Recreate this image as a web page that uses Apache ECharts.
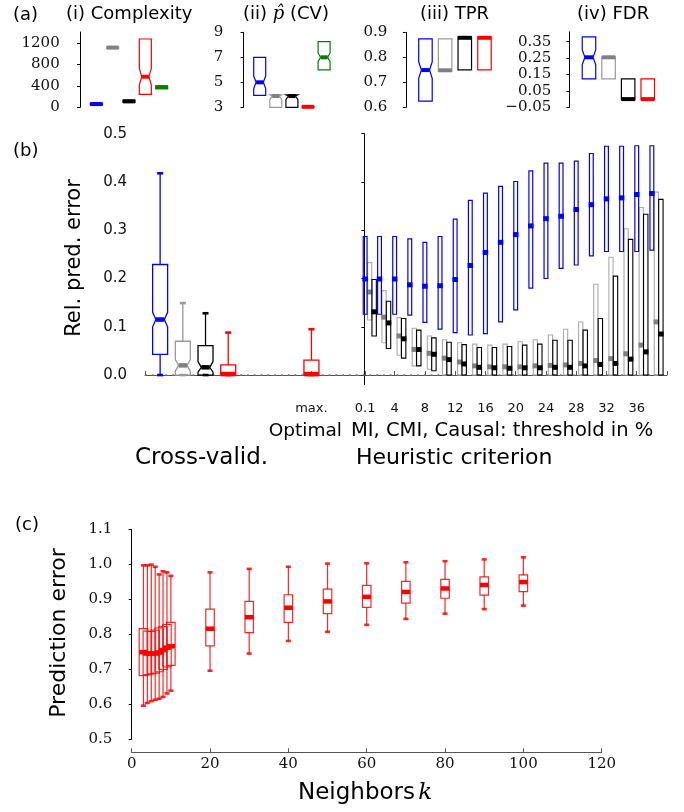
<!DOCTYPE html>
<html>
<head>
<meta charset="utf-8">
<script src="https://cdn.jsdelivr.net/npm/echarts@6/dist/echarts.min.js"></script>
<style>
  html, body { margin: 0; padding: 0; background: #fff; }
  #chart { width: 684px; height: 812px; }
</style>
</head>
<body>
<div id="chart"></div>
<script>
// ---------- data ----------
// (a) box stats: [q1, median, q3, notchLo, notchHi]  order: blue, gray, black, red, green
const complexityStats = [
  [40, 60, 80, null, null],
  [1095, 1110, 1125, null, null],
  [90, 110, 135, null, null],
  [242, 569, 1270, 415, 725],
  [345, 372, 400, null, null]
];
const pcvStats = [
  [3.95, 5, 7, 4.5, 5.5],
  [3, 3.9, 4, 3.6, 4],
  [3, 3.9, 4, 3.6, 4],
  [3, 3.04, 3.08, null, null],
  [6, 7, 8.25, 6.65, 7.35]
];
const tprStats = [
  [0.625, 0.749, 0.874, 0.716, 0.782],
  [0.744, 0.748, 0.874, null, null],
  [0.75, 0.878, 0.882, null, null],
  [0.75, 0.878, 0.882, null, null]
];
const fdrStats = [
  [0.124, 0.255, 0.38, 0.21, 0.30],
  [0.124, 0.255, 0.258, null, null],
  [-0.003, 0.0, 0.124, null, null],
  [-0.003, 0.0, 0.124, null, null]
];

// (b) cross-validation boxes: [whiskerLo, q1, median, q3, whiskerHi, notchLo, notchHi]
const cvPositions = [-27, -24, -21, -18];
const cvStats = [
  [0, 0.043, 0.115, 0.229, 0.418, 0.100, 0.130],
  [0, 0, 0.020, 0.070, 0.149, 0.008, 0.032],
  [0, 0, 0.016, 0.061, 0.128, 0.006, 0.028],
  [0, 0, 0.002, 0.021, 0.088, null, null]
];
const optimalPosition = [-7];
const optimalStats = [[0, 0, 0.002, 0.031, 0.095, null, null]];
const zeroLineRange = [-29, 40];

// (b) heuristic criterion, threshold in %: [q1, median, q3]
const thresholds = [0.1, 2, 4, 6, 8, 10, 12, 14, 16, 18, 20, 22, 24, 26, 28, 30, 32, 34, 36, 38];
const miBoxes = [
  [.126, .199, .287], [.126, .199, .287], [.126, .199, .287], [.124, .187, .282], [.109, .184, .275],
  [.095, .185, .287], [.088, .198, .323], [.083, .227, .362], [.086, .254, .377], [.110, .275, .391],
  [.135, .291, .401], [.180, .309, .423], [.200, .324, .439], [.221, .329, .439], [.228, .343, .443],
  [.247, .353, .459], [.256, .365, .474], [.256, .367, .474], [.256, .374, .475], [.259, .376, .475]
];
const cmiBoxes = [
  [.114, .172, .233], [.067, .120, .175], [.041, .081, .119], [.019, .053, .097], [.012, .045, .081],
  [0, .035, .073], [0, .027, .067], [0, .019, .064], [0, .017, .062], [0, .017, .064],
  [0, .017, .069], [0, .019, .073], [0, .020, .083], [0, .021, .095], [0, .024, .110],
  [0, .030, .188], [0, .034, .244], [0, .044, .303], [0, .062, .347], [0, .110, .379]
];
const causalBoxes = [
  [.081, .131, .198], [.055, .108, .153], [.035, .075, .117], [.019, .053, .093], [.009, .043, .077],
  [0, .032, .068], [0, .023, .063], [0, .016, .057], [0, .015, .057], [0, .014, .059],
  [0, .015, .062], [0, .015, .064], [0, .016, .072], [0, .016, .072], [0, .019, .093],
  [0, .022, .117], [0, .024, .205], [0, .033, .281], [0, .048, .333], [0, .085, .364]
];
const thresholdTicks = [0.1, 4, 8, 12, 16, 20, 24, 28, 32, 36];

// (c) prediction error vs neighbors k: [whiskerLo, q1, median, q3, whiskerHi]
const neighbors = [3, 4, 5, 6, 7, 8, 9, 10, 20, 30, 40, 50, 60, 70, 80, 90, 100];
const knnStats = [
  [.596, .682, .749, .816, .997], [.604, .685, .745, .809, .997], [.609, .687, .745, .808, .999],
  [.613, .689, .745, .812, .993], [.616, .693, .748, .818, .971], [.621, .700, .755, .822, .980],
  [.631, .707, .762, .828, .977], [.639, .711, .766, .834, .967], [.696, .767, .816, .872, .977],
  [.745, .805, .849, .894, .987], [.781, .834, .876, .913, .993], [.807, .859, .894, .929, 1.002],
  [.827, .877, .907, .940, 1.003], [.844, .889, .921, .951, 1.006], [.859, .903, .931, .957, 1.009],
  [.872, .912, .941, .964, 1.014], [.882, .922, .949, .970, 1.020]
];

// ---------- drawing ----------
const SANS = 'DejaVu Sans';
const SERIF = 'DejaVu Serif';
const BLUE = '#0000ff', GRAY = '#999999', GRAYM = '#808080', BLACK = '#000000', RED = '#ff0000', GREEN = '#008000';

// one box from [wlo, q1, med, q3, whi, nlo, nhi]
function drawBox(api, xv, s, o) {
  const [wlo, q1, med, q3, whi, nlo, nhi] = s;
  const Y = v => api.coord([xv, v])[1];
  const cx = api.coord([xv, med])[0] + (o.dx || 0);
  const L = cx - o.w / 2, R = cx + o.w / 2;
  const line = { stroke: o.color, lineWidth: o.lw || 1, fill: 'none' };
  const kids = [];
  if (whi != null) {
    kids.push({ type: 'line', shape: { x1: cx, y1: Y(q3), x2: cx, y2: Y(whi) }, style: line });
    kids.push({ type: 'rect', shape: { x: cx - o.capW / 2, y: Y(whi) - 1.3, width: o.capW, height: 2.6 }, style: { fill: o.color } });
  }
  if (wlo != null) {
    kids.push({ type: 'line', shape: { x1: cx, y1: Y(q1), x2: cx, y2: Y(wlo) }, style: line });
    kids.push({ type: 'rect', shape: { x: cx - o.capW / 2, y: Y(wlo) - 1.3, width: o.capW, height: 2.6 }, style: { fill: o.color } });
  }
  const notched = nlo != null;
  const ins = o.w * (o.inset || 0.22);
  if (notched) {
    kids.push({ type: 'polygon', shape: { points: [
      [L, Y(q1)], [L, Y(nlo)], [L + ins, Y(med)], [L, Y(nhi)], [L, Y(q3)],
      [R, Y(q3)], [R, Y(nhi)], [R - ins, Y(med)], [R, Y(nlo)], [R, Y(q1)]
    ] }, style: Object.assign({}, line, { fill: o.fill || 'none' }) });
  } else {
    kids.push({ type: 'rect', shape: { x: L, y: Y(q3), width: o.w, height: Y(q1) - Y(q3) },
      style: Object.assign({}, line, { fill: o.fill || 'none' }) });
  }
  const mw = notched ? o.w - 2 * ins : (o.medW || o.w);
  kids.push({ type: 'rect', shape: { x: cx - mw / 2, y: Y(med) - o.medH / 2, width: mw, height: o.medH },
    style: { fill: o.medColor || o.color } });
  return { type: 'group', children: kids };
}

function boxSeries(gi, xs, stats, styleFor) {
  return {
    type: 'custom', xAxisIndex: gi, yAxisIndex: gi, silent: true, clip: false,
    data: xs.map((x, i) => [x, stats[i][2]]),
    encode: { x: 0, y: 1 },
    renderItem: (params, api) => drawBox(api, api.value(0), stats[params.dataIndex], styleFor(params.dataIndex))
  };
}

// (a) helpers: [q1, med, q3, nlo, nhi] -> full form without whiskers
const aFull = arr => arr.map(r => [null, r[0], r[1], r[2], null, r[3], r[4]]);
const aColors5 = [BLUE, GRAY, BLACK, RED, GREEN];
const aMed5 = [BLUE, GRAYM, BLACK, RED, GREEN];
const aStyle = (w, cols, meds) => i => ({ w: w, color: cols[i], medColor: meds[i], lw: 1.2, medH: 4, inset: 0.2 });

// (b) threshold helper: [q1, med, q3] -> full form
const tFull = arr => arr.map(r => [null, r[0], r[1], r[2], null, null, null]);

const series = [
  boxSeries(0, [1, 2, 3, 4, 5], aFull(complexityStats), aStyle(12, aColors5, aMed5)),
  boxSeries(1, [1, 2, 3, 4, 5], aFull(pcvStats), aStyle(12, aColors5, aMed5)),
  boxSeries(2, [1, 2, 3, 4], aFull(tprStats), aStyle(13.5, aColors5, aMed5)),
  boxSeries(3, [1, 2, 3, 4], aFull(fdrStats), aStyle(13.5, aColors5, aMed5)),
  // dotted zero reference line in (b)
  {
    type: 'custom', xAxisIndex: 4, yAxisIndex: 4, silent: true, clip: false, z: 1,
    data: [[zeroLineRange[0], 0, zeroLineRange[1]]],
    encode: { x: 0, y: 1 },
    renderItem: (params, api) => {
      const a = api.coord([api.value(0), api.value(1)]);
      const b = api.coord([api.value(2), api.value(1)]);
      return {
        type: 'line', shape: { x1: a[0], y1: a[1], x2: b[0], y2: b[1] },
        style: { stroke: '#707070', lineWidth: 1.8, lineDash: [1.8, 5] }
      };
    }
  },
  boxSeries(4, cvPositions, cvStats, i => ({
    w: 15, color: [BLUE, GRAY, BLACK, RED][i], medColor: [BLUE, GRAYM, BLACK, RED][i],
    lw: 1.3, medH: 4.5, capW: 6, inset: 0.22
  })),
  boxSeries(4, optimalPosition, optimalStats, () => ({ w: 15, color: RED, lw: 1.3, medH: 4.5, capW: 6 })),
  boxSeries(4, thresholds, tFull(cmiBoxes), () => ({ w: 4.2, dx: 4.5, color: '#aaaaaa', medColor: GRAYM, lw: 1.1, medH: 5, medW: 5.5 })),
  boxSeries(4, thresholds, tFull(causalBoxes), () => ({ w: 4.4, dx: 9, color: BLACK, medColor: BLACK, lw: 1.1, medH: 5, medW: 5.5 })),
  boxSeries(4, thresholds, tFull(miBoxes), () => ({ w: 3.8, dx: 0, color: BLUE, medColor: BLUE, lw: 1.2, medH: 5, medW: 5.5 })),
  boxSeries(5, neighbors, knnStats.map(r => r.concat([null, null])), () => ({
    w: 8.5, color: 'rgba(255,0,0,0.85)', medColor: RED, lw: 1.2, medH: 4.5, capW: 5
  }))
];

// axes
const hiddenX = (min, max, gi) => ({ gridIndex: gi, type: 'value', min: min, max: max, show: false });
function yAx(gi, min, max, ticks, fmt, offset, family, size, margin) {
  return {
    gridIndex: gi, type: 'value', min: min, max: max, offset: offset,
    axisLine: { show: true, lineStyle: { color: '#000', width: 1 } },
    axisTick: { show: true, inside: false, length: 3, customValues: ticks, lineStyle: { color: '#000' } },
    axisLabel: { customValues: ticks, formatter: fmt, fontFamily: family, fontSize: size, color: '#111', margin: margin },
    splitLine: { show: false }
  };
}

const option = {
  animation: false,
  backgroundColor: '#fff',
  grid: [
    { left: 80, top: 32, width: 98, height: 75.3 },
    { left: 243.6, top: 32.3, width: 96.6, height: 75 },
    { left: 405.8, top: 32.3, width: 98.3, height: 75 },
    { left: 569.4, top: 31.9, width: 97.9, height: 75.4 },
    { left: 145, top: 133.7, width: 522, height: 251 },
    { left: 131.7, top: 529.3, width: 470, height: 210 }
  ],
  xAxis: [
    hiddenX(0, 6, 0), hiddenX(0, 6, 1), hiddenX(0, 5, 2), hiddenX(0, 5, 3),
    {
      gridIndex: 4, type: 'value', min: -29, max: 40, offset: 13,
      axisLine: { show: true, lineStyle: { color: '#555', width: 1 } },
      axisTick: { show: true, inside: true, length: 4, customValues: [-29, -7].concat(thresholdTicks, [40]), lineStyle: { color: '#555' } },
      axisLabel: {
        customValues: [-7].concat(thresholdTicks), fontFamily: SANS, fontSize: 13, color: '#111', margin: 4,
        formatter: v => Math.abs(v + 7) < 1e-6 ? 'max.' : (Math.abs(v - 0.1) < 1e-6 ? '0.1' : String(Math.round(v)))
      },
      splitLine: { show: false }
    },
    {
      gridIndex: 5, type: 'value', min: 0, max: 120, offset: 13,
      axisLine: { show: true, lineStyle: { color: '#555', width: 1 } },
      axisTick: { show: true, inside: true, length: 4, customValues: [0, 20, 40, 60, 80, 100, 120], lineStyle: { color: '#555' } },
      axisLabel: { customValues: [0, 20, 40, 60, 80, 100, 120], fontFamily: SERIF, fontSize: 15, color: '#111', margin: 4 },
      splitLine: { show: false }
    }
  ],
  yAxis: [
    yAx(0, 0, 1400, [0, 400, 800, 1200], v => String(v), 14.3, SERIF, 15, 6),
    yAx(1, 3, 9, [3, 5, 7, 9], v => String(v), 14.3, SERIF, 15, 6),
    yAx(2, 0.6, 0.9, [0.6, 0.7, 0.8, 0.9], v => v.toFixed(1), 12.5, SERIF, 15, 6),
    yAx(3, -0.05, 0.41, [-0.05, 0.05, 0.15, 0.25, 0.35], v => (v < 0 ? '\u2212' : '') + Math.abs(v).toFixed(2), 12.1, SERIF, 15, 6),
    yAx(4, -0.02, 0.5, [0, 0.1, 0.2, 0.3, 0.4, 0.5], v => v.toFixed(1), 13, SANS, 15, 5),
    yAx(5, 0.5, 1.1, [0.5, 0.6, 0.7, 0.8, 0.9, 1.0, 1.1], v => v.toFixed(1), 12.4, SERIF, 15, 7)
  ],
  series: series,
  graphic: []
};

function txt(x, y, text, size, align, extra) {
  return Object.assign({
    type: 'text', x: x, y: y, silent: true,
    style: { text: text, fontFamily: SANS, fontSize: size, fill: '#000', align: align || 'left', verticalAlign: 'middle' }
  }, extra || {});
}

option.graphic = [
  txt(13, 15, '(a)', 18),
  txt(66, 14, '(i) Complexity', 18),
  {
    type: 'text', x: 243, y: 14, silent: true,
    style: {
      text: '(ii) {m|p\u0302} (CV)', fontFamily: SANS, fontSize: 18, fill: '#000', align: 'left', verticalAlign: 'middle',
      rich: { m: { fontFamily: SERIF, fontStyle: 'italic', fontSize: 18 } }
    }
  },
  txt(420, 14, '(iii) TPR', 18),
  txt(577, 14, '(iv) FDR', 18),
  txt(13, 151, '(b)', 18),
  txt(75, 258, 'Rel. pred. error', 21, 'center', { rotation: Math.PI / 2 }),
  txt(342, 431, 'Optimal', 18.5, 'right'),
  txt(351, 431, 'MI, CMI, Causal: threshold in %', 19.5),
  txt(135, 458, 'Cross-valid.', 23),
  txt(356, 458, 'Heuristic criterion', 22),
  txt(15, 525, '(c)', 18),
  txt(59, 633, 'Prediction error', 22, 'center', { rotation: Math.PI / 2 }),
  {
    type: 'text', x: 298, y: 793, silent: true,
    style: {
      text: '{n|Neighbors} {k|k}', fill: '#000', align: 'left', verticalAlign: 'middle',
      rich: { n: { fontFamily: SANS, fontSize: 23 }, k: { fontFamily: SERIF, fontStyle: 'italic', fontSize: 23 } }
    }
  }
];

const chart = echarts.init(document.getElementById('chart'), null, { renderer: 'canvas' });
chart.setOption(option);
</script>
</body>
</html>
